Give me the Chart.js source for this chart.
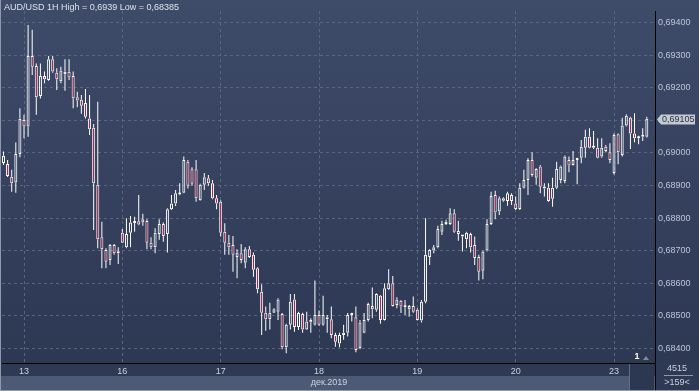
<!DOCTYPE html>
<html>
<head>
<meta charset="utf-8">
<script src="https://cdn.jsdelivr.net/npm/chart.js@4.4.1/dist/chart.umd.min.js"></script>
<style>
  html, body { margin: 0; padding: 0; background: #34405b; }
  #wrap { width: 699px; height: 391px; }
</style>
</head>
<body>
<div id="wrap"><canvas id="chart" width="699" height="391"></canvas></div>
<script>
// Текст и подписи
const title = 'AUD/USD 1H High = 0,6939 Low = 0,68385';
const dayLabels = ['13', '16', '17', '18', '19', '20', '23'];
const dayStart = [5, 29, 53, 77, 101, 125, 149];
const monthLabel = 'дек.2019';
const yTicks = [0.684, 0.685, 0.686, 0.687, 0.688, 0.689, 0.690, 0.691, 0.692, 0.693, 0.694];
const barTotal = '4515';
const barVisible = '>159<';

// Свечи 1H (open / high / low / close)
const opens = [
  0.68969, 0.68966, 0.68927, 0.68909, 0.68997, 0.69101, 0.69081, 0.69298, 0.69267, 0.69175,
  0.69236, 0.69224, 0.69288, 0.69246, 0.69220, 0.69242, 0.69249, 0.69236, 0.69171, 0.69163,
  0.69153, 0.69106, 0.69077, 0.68902, 0.68741, 0.68702, 0.68671, 0.68717, 0.68697, 0.68755,
  0.68710, 0.68755, 0.68788, 0.68790, 0.68786, 0.68791, 0.68724, 0.68710, 0.68751, 0.68782,
  0.68751, 0.68827, 0.68845, 0.68872, 0.68878, 0.68973, 0.68950, 0.68950, 0.68855, 0.68902,
  0.68922, 0.68907, 0.68861, 0.68850, 0.68758, 0.68724, 0.68717, 0.68680, 0.68692, 0.68663,
  0.68704, 0.68687, 0.68646, 0.68574, 0.68509, 0.68489, 0.68509, 0.68512, 0.68505, 0.68403,
  0.68472, 0.68550, 0.68465, 0.68505, 0.68458, 0.68479, 0.68472, 0.68502, 0.68472, 0.68495,
  0.68489, 0.68441, 0.68415, 0.68441, 0.68448, 0.68502, 0.68495, 0.68400, 0.68448, 0.68487,
  0.68520, 0.68518, 0.68561, 0.68487, 0.68581, 0.68600, 0.68533, 0.68546, 0.68530, 0.68520,
  0.68530, 0.68518, 0.68485, 0.68543, 0.68680, 0.68700, 0.68710, 0.68758, 0.68782, 0.68782,
  0.68815, 0.68760, 0.68745, 0.68735, 0.68751, 0.68717, 0.68680, 0.68638, 0.68700, 0.68782,
  0.68871, 0.68820, 0.68853, 0.68852, 0.68871, 0.68845, 0.68828, 0.68893, 0.68917, 0.68978,
  0.68924, 0.68958, 0.68896, 0.68893, 0.68859, 0.68893, 0.68917, 0.68914, 0.68978, 0.68963,
  0.68978, 0.68985, 0.69016, 0.69050, 0.69016, 0.69016, 0.68989, 0.69019, 0.69002, 0.68938,
  0.69057, 0.68994, 0.69084, 0.69108, 0.69060, 0.69045, 0.69050, 0.69050
];
const highs = [
  0.69004, 0.68978, 0.68948, 0.69032, 0.69137, 0.69117, 0.69393, 0.69378, 0.69275, 0.69275,
  0.69250, 0.69298, 0.69298, 0.69260, 0.69265, 0.69288, 0.69288, 0.69250, 0.69188, 0.69178,
  0.69196, 0.69178, 0.69089, 0.69157, 0.68789, 0.68707, 0.68720, 0.68720, 0.68710, 0.68766,
  0.68799, 0.68806, 0.68804, 0.68871, 0.68813, 0.68796, 0.68741, 0.68769, 0.68796, 0.68786,
  0.68830, 0.68871, 0.68886, 0.68907, 0.68989, 0.68978, 0.68956, 0.68978, 0.68905, 0.68938,
  0.68932, 0.68917, 0.68871, 0.68855, 0.68784, 0.68748, 0.68745, 0.68704, 0.68720, 0.68710,
  0.68714, 0.68694, 0.68649, 0.68597, 0.68528, 0.68540, 0.68523, 0.68554, 0.68508, 0.68475,
  0.68567, 0.68567, 0.68512, 0.68509, 0.68512, 0.68492, 0.68608, 0.68516, 0.68561, 0.68502,
  0.68528, 0.68448, 0.68448, 0.68472, 0.68508, 0.68509, 0.68528, 0.68487, 0.68508, 0.68540,
  0.68587, 0.68569, 0.68564, 0.68600, 0.68643, 0.68622, 0.68557, 0.68548, 0.68548, 0.68533,
  0.68559, 0.68523, 0.68548, 0.68799, 0.68704, 0.68717, 0.68776, 0.68792, 0.68795, 0.68830,
  0.68827, 0.68792, 0.68748, 0.68758, 0.68755, 0.68743, 0.68687, 0.68700, 0.68796, 0.68881,
  0.68884, 0.68866, 0.68864, 0.68881, 0.68876, 0.68866, 0.68907, 0.68948, 0.68984, 0.69002,
  0.68953, 0.68963, 0.68907, 0.68907, 0.68924, 0.68973, 0.68961, 0.68992, 0.68989, 0.69006,
  0.68985, 0.69040, 0.69071, 0.69076, 0.69067, 0.69045, 0.69045, 0.69024, 0.69030, 0.69060,
  0.69060, 0.69108, 0.69119, 0.69111, 0.69122, 0.69053, 0.69076, 0.69111
];
const lows = [
  0.68963, 0.68926, 0.68881, 0.68878, 0.68987, 0.69045, 0.69050, 0.69239, 0.69117, 0.69167,
  0.69214, 0.69222, 0.69246, 0.69193, 0.69214, 0.69191, 0.69224, 0.69137, 0.69140, 0.69120,
  0.69106, 0.69055, 0.68763, 0.68707, 0.68646, 0.68646, 0.68656, 0.68687, 0.68659, 0.68723,
  0.68707, 0.68710, 0.68758, 0.68778, 0.68776, 0.68704, 0.68704, 0.68692, 0.68733, 0.68727,
  0.68694, 0.68825, 0.68837, 0.68870, 0.68876, 0.68891, 0.68899, 0.68850, 0.68853, 0.68886,
  0.68899, 0.68858, 0.68827, 0.68743, 0.68687, 0.68687, 0.68635, 0.68615, 0.68661, 0.68646,
  0.68677, 0.68620, 0.68569, 0.68441, 0.68454, 0.68458, 0.68508, 0.68487, 0.68397, 0.68385,
  0.68458, 0.68451, 0.68456, 0.68448, 0.68456, 0.68448, 0.68470, 0.68469, 0.68469, 0.68448,
  0.68431, 0.68405, 0.68403, 0.68426, 0.68436, 0.68482, 0.68388, 0.68397, 0.68446, 0.68482,
  0.68492, 0.68512, 0.68475, 0.68485, 0.68579, 0.68528, 0.68523, 0.68508, 0.68502, 0.68497,
  0.68509, 0.68485, 0.68479, 0.68538, 0.68656, 0.68692, 0.68707, 0.68748, 0.68779, 0.68779,
  0.68755, 0.68730, 0.68697, 0.68707, 0.68694, 0.68656, 0.68608, 0.68612, 0.68697, 0.68779,
  0.68796, 0.68809, 0.68850, 0.68838, 0.68840, 0.68825, 0.68825, 0.68891, 0.68871, 0.68927,
  0.68902, 0.68876, 0.68866, 0.68850, 0.68835, 0.68889, 0.68907, 0.68907, 0.68941, 0.68961,
  0.68904, 0.68968, 0.68985, 0.69014, 0.69012, 0.68984, 0.68985, 0.69002, 0.68968, 0.68934,
  0.68965, 0.68989, 0.69081, 0.69012, 0.69033, 0.69027, 0.69037, 0.69047
];
const closes = [
  0.68991, 0.68929, 0.68907, 0.68997, 0.69105, 0.69081, 0.69298, 0.69265, 0.69171, 0.69236,
  0.69226, 0.69288, 0.69250, 0.69226, 0.69253, 0.69249, 0.69232, 0.69168, 0.69161, 0.69145,
  0.69111, 0.69073, 0.68907, 0.68735, 0.68704, 0.68666, 0.68717, 0.68692, 0.68692, 0.68724,
  0.68751, 0.68786, 0.68785, 0.68780, 0.68796, 0.68724, 0.68710, 0.68755, 0.68782, 0.68745,
  0.68827, 0.68845, 0.68876, 0.68876, 0.68978, 0.68899, 0.68905, 0.68861, 0.68902, 0.68925,
  0.68907, 0.68861, 0.68845, 0.68755, 0.68724, 0.68710, 0.68687, 0.68694, 0.68671, 0.68704,
  0.68680, 0.68641, 0.68581, 0.68509, 0.68489, 0.68509, 0.68520, 0.68550, 0.68403, 0.68472,
  0.68543, 0.68465, 0.68508, 0.68458, 0.68482, 0.68487, 0.68502, 0.68472, 0.68502, 0.68489,
  0.68441, 0.68420, 0.68441, 0.68448, 0.68502, 0.68505, 0.68395, 0.68479, 0.68487, 0.68536,
  0.68530, 0.68567, 0.68487, 0.68584, 0.68600, 0.68530, 0.68550, 0.68528, 0.68526, 0.68530,
  0.68512, 0.68487, 0.68543, 0.68687, 0.68702, 0.68710, 0.68766, 0.68782, 0.68789, 0.68815,
  0.68758, 0.68751, 0.68743, 0.68755, 0.68710, 0.68677, 0.68635, 0.68697, 0.68782, 0.68868,
  0.68817, 0.68861, 0.68861, 0.68876, 0.68852, 0.68828, 0.68893, 0.68917, 0.68978, 0.68932,
  0.68951, 0.68896, 0.68891, 0.68852, 0.68893, 0.68951, 0.68958, 0.68989, 0.68961, 0.68978,
  0.68981, 0.69019, 0.69050, 0.69016, 0.69019, 0.68985, 0.69016, 0.69006, 0.68978, 0.69055,
  0.69002, 0.69084, 0.69114, 0.69060, 0.69045, 0.69050, 0.69053, 0.69105
];

const FONT = "'Liberation Sans', Arial, sans-serif";
const BULL = 'rgba(0,0,0,0)';
const BEAR = '#ad2853';
const WHITE = '#ffffff';
const GRID = '#57657f';

const idx = opens.map((_, i) => i);
const bodies = idx.map(i => ({ x: i, y: [opens[i], closes[i]] }));
const upperWicks = idx.map(i => ({ x: i, y: [Math.max(opens[i], closes[i]), highs[i]] }));
const lowerWicks = idx.map(i => ({ x: i, y: [lows[i], Math.min(opens[i], closes[i])] }));
const bodyColors = idx.map(i => closes[i] < opens[i] ? BEAR : BULL);

const fmt = v => v.toFixed(5).replace('.', ',');

// Фон: градиент, нижняя полоса
const backdrop = {
    id: 'backdrop',
    beforeDraw(chart) {
        const ctx = chart.ctx;
        const g = ctx.createLinearGradient(0, 0, 0, 363);
        g.addColorStop(0, '#3e4b69');
        g.addColorStop(1, '#2d3853');
        ctx.save();
        ctx.fillStyle = g;
        ctx.fillRect(0, 0, 699, 363);
        ctx.fillStyle = '#2e3954';
        ctx.fillRect(0, 363, 699, 28);
        ctx.fillStyle = '#4d5a76';
        ctx.fillRect(0, 376, 655, 14);
        ctx.restore();
    }
};

// Заголовок, метка цены, подписи внизу
const overlay = {
    id: 'overlay',
    afterDraw(chart) {
        const ctx = chart.ctx;
        const y = chart.scales.y;
        ctx.save();

        ctx.font = '9px ' + FONT;
        ctx.textBaseline = 'middle';
        ctx.fillStyle = '#dde2ea';
        ctx.textAlign = 'left';
        ctx.fillText(title, 4, 8);

        // месяц
        ctx.fillStyle = '#c9d1de';
        ctx.textAlign = 'center';
        ctx.fillText(monthLabel, 329, 383);

        // ползунок
        ctx.fillStyle = '#2c3752';
        ctx.fillRect(629, 364, 25, 26);
        ctx.fillStyle = '#5f6b86';
        ctx.fillRect(629, 364, 1, 26);

        // "1"
        ctx.fillStyle = '#ffffff';
        ctx.font = 'bold 9px ' + FONT;
        ctx.fillText('1', 637, 357);
        ctx.fillStyle = '#7d889c';
        ctx.beginPath();
        ctx.moveTo(643, 360); ctx.lineTo(649, 360); ctx.lineTo(646, 356); ctx.closePath();
        ctx.fill();

        // счётчики справа
        ctx.font = '9px ' + FONT;
        ctx.fillStyle = '#c9d1de';
        ctx.fillText(barTotal, 677, 369);
        ctx.fillText(barVisible, 677, 383);
        ctx.fillStyle = '#8d98ac';
        ctx.fillRect(664, 375, 29, 1);

        // последняя цена
        const last = closes[closes.length - 1];
        const py = Math.round(y.getPixelForValue(last)) + 0.5;
        ctx.fillStyle = '#c4c9d2';
        ctx.beginPath();
        ctx.moveTo(657, py);
        ctx.lineTo(661, py - 5);
        ctx.lineTo(695, py - 5);
        ctx.lineTo(695, py + 5);
        ctx.lineTo(661, py + 5);
        ctx.closePath();
        ctx.fill();
        ctx.fillStyle = '#2a3245';
        ctx.textAlign = 'left';
        ctx.fillText(fmt(last), 662, py);

        // рамки
        ctx.fillStyle = '#000000';
        ctx.fillRect(655, 363, 1, 28);
        ctx.fillStyle = '#8e99ab';
        ctx.fillRect(0, 0, 1, 391);
        ctx.fillRect(0, 390, 699, 1);
        ctx.restore();
    }
};

new Chart(document.getElementById('chart').getContext('2d'), {
    type: 'bar',
    data: {
        datasets: [
            { data: upperWicks, backgroundColor: WHITE, barThickness: 1, grouped: false, inflateAmount: 0, borderWidth: 0 },
            { data: lowerWicks, backgroundColor: WHITE, barThickness: 1, grouped: false, inflateAmount: 0, borderWidth: 0 },
            {
                data: bodies, backgroundColor: bodyColors, borderColor: WHITE, borderWidth: 1,
                borderSkipped: false, barThickness: 3, minBarLength: 2, grouped: false, inflateAmount: 0
            }
        ]
    },
    options: {
        responsive: false,
        animation: false,
        devicePixelRatio: 1,
        layout: { padding: { left: 2, top: 11, right: 0, bottom: 0 } },
        plugins: { legend: { display: false }, tooltip: { enabled: false } },
        scales: {
            x: {
                type: 'linear', min: -0.37, max: 159.0, offset: false,
                afterBuildTicks: s => { s.ticks = dayStart.map(v => ({ value: v })); },
                afterFit: s => { s.height = 28; },
                ticks: {
                    autoSkip: false, maxRotation: 0, padding: 3, color: '#c9d1de',
                    font: { family: FONT, size: 9 },
                    callback: (v, i) => dayLabels[i]
                },
                grid: { color: GRID, drawTicks: false, offset: false },
                border: { display: true, color: '#000000', width: 1, dash: [3, 3] }
            },
            y: {
                position: 'right', min: 0.683548, max: 0.694359,
                afterBuildTicks: s => { s.ticks = yTicks.map(v => ({ value: v })); },
                afterFit: s => { s.width = 44; },
                ticks: {
                    padding: 3, color: '#bcc6d8',
                    font: { family: FONT, size: 9 },
                    callback: v => fmt(v)
                },
                grid: { color: GRID, drawTicks: false },
                border: { display: true, color: '#000000', width: 1, dash: [3, 3] }
            }
        }
    },
    plugins: [backdrop, overlay]
});
</script>
</body>
</html>
